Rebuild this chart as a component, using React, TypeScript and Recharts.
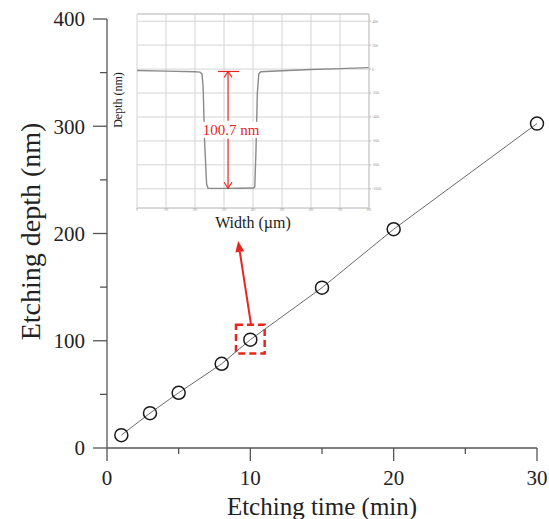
import { LineChart, Line, XAxis, YAxis, CartesianGrid, ReferenceArea, ReferenceLine } from 'recharts';

// main series: etching time (min) vs etching depth (nm)
const etchTime = [1, 3, 5, 8, 10, 15, 20, 30];
const etchDepth = [12, 32.5, 51.5, 78.5, 101, 149.5, 204, 302.5];

const timeTicks = [0, 5, 10, 15, 20, 25, 30];
const depthTicks = [0, 50, 100, 150, 200, 250, 300, 350, 400];

// highlighted point + arrow towards the inset
const boxX = [9, 11];
const boxY = [88, 115];
const arrowFrom = { x: 10.05, y: 115 };
const arrowTo = { x: 9.15, y: 193 };

// inset: surface profile, width in µm, depth in Å
const profileWidth = [0, 100, 200, 217, 224, 228, 233, 240, 245, 300, 350, 400, 406, 410, 415, 420, 427, 500, 600, 700, 800];
const profileDepth = [-12, -17, -22, -25, -40, -150, -600, -960, -995, -996, -995, -993, -985, -700, -200, -40, -22, -14, -4, 4, 12];
const widthTicks = [0, 100, 200, 300, 400, 500, 600, 700, 800];
const profileTicks = [400, 200, 0, -200, -400, -600, -800, -1000];
const stepX = 314;
const stepTop = -20;
const stepBottom = -995;
const stepLabel = '100.7 nm';

const mainData = etchTime.map((t, i) => ({ time: t, depth: etchDepth[i] }));
const profileData = profileWidth.map((w, i) => ({ width: w, depth: profileDepth[i] }));

const serif = "'Liberation Serif', 'Times New Roman', serif";
const red = '#e8261f';
const axisColor = '#555';

const XTick = ({ x, y, payload }: any) => {
  const major = payload.value % 10 === 0;
  return (
    <g>
      <line x1={x} y1={y} x2={x} y2={y + (major ? 13 : 6)} stroke={axisColor} strokeWidth={1.3} />
      {major && (
        <text x={x} y={y + 37} textAnchor="middle" fontSize={21} fill="#222" fontFamily={serif}>
          {payload.value}
        </text>
      )}
    </g>
  );
};

const YTick = ({ x, y, payload }: any) => {
  const major = payload.value % 100 === 0;
  return (
    <g>
      <line x1={x - (major ? 14 : 7)} y1={y} x2={x} y2={y} stroke={axisColor} strokeWidth={1.3} />
      {major && (
        <text x={x - 22} y={y} dy="0.35em" textAnchor="end" fontSize={21} fill="#222" fontFamily={serif}>
          {payload.value}
        </text>
      )}
    </g>
  );
};

const OpenCircle = (p: any) => (
  <circle key={`c${p.index}`} cx={p.cx} cy={p.cy} r={6.5} fill="none" stroke="#1a1a1a" strokeWidth={1.5} />
);

const ArrowShape = (p: any) => {
  const { x1, y1, x2, y2 } = p;
  const ang = Math.atan2(y2 - y1, x2 - x1);
  const len = 11;
  const half = 4.5;
  const bx = x2 - len * Math.cos(ang);
  const by = y2 - len * Math.sin(ang);
  const nx = -Math.sin(ang) * half;
  const ny = Math.cos(ang) * half;
  return (
    <g>
      <line x1={x1} y1={y1} x2={bx} y2={by} stroke={red} strokeWidth={2} />
      <polygon points={`${x2},${y2} ${bx + nx},${by + ny} ${bx - nx},${by - ny}`} fill={red} />
    </g>
  );
};

const MeasureShape = (p: any) => {
  const { x1, y1, y2 } = p;
  const top = Math.min(y1, y2);
  const bot = Math.max(y1, y2);
  const mid = (top + bot) / 2;
  return (
    <g stroke={red} strokeWidth={1.2} fill="none">
      <line x1={x1 - 10} y1={top} x2={x1 + 11} y2={top} />
      <line x1={x1} y1={top} x2={x1} y2={mid - 9} />
      <line x1={x1} y1={mid + 9} x2={x1} y2={bot} />
      <polyline points={`${x1 - 4},${top + 6} ${x1},${top} ${x1 + 4},${top + 6}`} />
      <polyline points={`${x1 - 4},${bot - 6} ${x1},${bot} ${x1 + 4},${bot - 6}`} />
      <rect x={x1 - 25} y={mid - 8} width={56} height={16} fill="#fff" stroke="none" />
      <text x={x1 + 3} y={mid} dy="0.35em" textAnchor="middle" fill={red} stroke="none" fontSize={15} fontFamily={serif}>
        {stepLabel}
      </text>
    </g>
  );
};

function Inset() {
  return (
    <LineChart width={280} height={232} data={profileData} margin={{ top: 6, right: 5, left: 0, bottom: 0 }}>
      <CartesianGrid stroke="#d4d4d4" strokeWidth={1} />
      <XAxis
        dataKey="width"
        type="number"
        domain={[0, 800]}
        ticks={widthTicks}
        interval={0}
        height={32}
        axisLine={{ stroke: '#c8c8c8' }}
        tickLine={{ stroke: '#bbb' }}
        tickSize={1}
        tickMargin={0}
        tick={{ fontSize: 3, fill: '#999', fontFamily: serif }}
        label={{ value: 'Width (µm)', position: 'insideBottom', offset: 12, fontSize: 16, fill: '#222', fontFamily: serif }}
      />
      <YAxis
        orientation="right"
        type="number"
        domain={[-1160, 460]}
        ticks={profileTicks}
        interval={0}
        allowDataOverflow
        width={16}
        axisLine={{ stroke: '#c8c8c8' }}
        tickLine={{ stroke: '#bbb' }}
        tickSize={2}
        tickMargin={1}
        tick={{ fontSize: 4, fill: '#999', fontFamily: serif }}
      />
      <YAxis
        yAxisId="lbl"
        orientation="left"
        type="number"
        domain={[-1160, 460]}
        width={27}
        tick={false}
        axisLine={false}
        tickLine={false}
        label={{
          value: 'Depth (nm)',
          angle: -90,
          position: 'insideLeft',
          offset: 8,
          dy: -11,
          fontSize: 12,
          fill: '#222',
          fontFamily: serif,
          style: { textAnchor: 'middle' },
        }}
      />
      <ReferenceLine y={460} stroke="#c8c8c8" ifOverflow="visible" />
      <Line dataKey="depth" stroke="#8a8a8a" strokeWidth={1.4} dot={false} isAnimationActive={false} />
      <ReferenceLine
        segment={[{ x: stepX, y: stepTop }, { x: stepX, y: stepBottom }]}
        stroke={red}
        ifOverflow="visible"
        shape={MeasureShape}
      />
    </LineChart>
  );
}

export default function App() {
  return (
    <div style={{ position: 'absolute', left: 0, top: 0, width: 549, height: 519, background: '#fff', overflow: 'hidden' }}>
      <LineChart width={549} height={519} data={mainData} margin={{ top: 19, right: 12, left: 27, bottom: 0 }}>
        <XAxis
          dataKey="time"
          type="number"
          domain={[0, 30]}
          ticks={timeTicks}
          interval={0}
          height={71}
          tickSize={0}
          tickMargin={0}
          axisLine={{ stroke: axisColor, strokeWidth: 1.3 }}
          tick={<XTick />}
          label={{ value: 'Etching time (min)', position: 'insideBottom', offset: 4, fontSize: 25, fill: '#222', fontFamily: serif }}
        />
        <YAxis
          type="number"
          domain={[0, 400]}
          ticks={depthTicks}
          interval={0}
          width={80}
          tickSize={0}
          tickMargin={0}
          axisLine={{ stroke: axisColor, strokeWidth: 1.3 }}
          tick={<YTick />}
          label={{
            value: 'Etching depth (nm)',
            angle: -90,
            position: 'insideLeft',
            offset: 3,
            dy: -2,
            fontSize: 28,
            fill: '#222',
            fontFamily: serif,
            style: { textAnchor: 'middle' },
          }}
        />
        <Line dataKey="depth" stroke="#6a6a6a" strokeWidth={1} dot={OpenCircle} isAnimationActive={false} />
        <ReferenceArea
          x1={boxX[0]}
          x2={boxX[1]}
          y1={boxY[0]}
          y2={boxY[1]}
          fill="none"
          fillOpacity={0}
          stroke={red}
          strokeWidth={2.5}
          strokeDasharray="7 4"
          ifOverflow="visible"
        />
        <ReferenceLine segment={[arrowFrom, arrowTo]} stroke={red} ifOverflow="visible" shape={ArrowShape} />
      </LineChart>
      <div style={{ position: 'absolute', left: 110, top: 8 }}>
        <Inset />
      </div>
    </div>
  );
}
